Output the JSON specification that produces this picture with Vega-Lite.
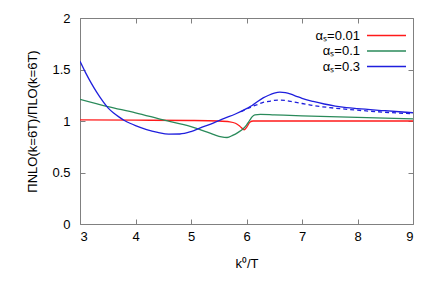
{
  "$schema": "https://vega.github.io/schema/vega-lite/v6.json",
  "autosize": {"type": "none"},
  "padding": {"left": 80, "top": 18, "right": 23, "bottom": 62},
  "width": 333,
  "height": 206,
  "config": {
    "view": {"stroke": "#808080", "strokeWidth": 1},
    "font": "Liberation Sans",
    "axis": {"labelFont": "Liberation Sans", "titleFont": "Liberation Sans", "labelFontSize": 13, "titleFontSize": 13, "titleFontWeight": "normal", "labelColor": "#000", "titleColor": "#000", "domainColor": "#808080", "tickColor": "#808080", "grid": false}
  },
  "datasets": {
    "main": [
      {"k": 3.0, "r": 1.01, "c": "αₛ=0.01"}, {"k": 4.0, "r": 1.008, "c": "αₛ=0.01"}, {"k": 5.0, "r": 1.005, "c": "αₛ=0.01"}, {"k": 5.5, "r": 1.0, "c": "αₛ=0.01"}, {"k": 5.7, "r": 0.992, "c": "αₛ=0.01"}, {"k": 5.8, "r": 0.978, "c": "αₛ=0.01"}, {"k": 5.88, "r": 0.95, "c": "αₛ=0.01"}, {"k": 5.96, "r": 0.915, "c": "αₛ=0.01"}, {"k": 6.01, "r": 0.945, "c": "αₛ=0.01"}, {"k": 6.06, "r": 0.988, "c": "αₛ=0.01"}, {"k": 6.12, "r": 1.0, "c": "αₛ=0.01"}, {"k": 6.5, "r": 1.0, "c": "αₛ=0.01"}, {"k": 7.0, "r": 1.0, "c": "αₛ=0.01"}, {"k": 8.0, "r": 1.0, "c": "αₛ=0.01"}, {"k": 9.0, "r": 1.0, "c": "αₛ=0.01"},
      {"k": 3.0, "r": 1.21, "c": "αₛ=0.1"}, {"k": 3.5, "r": 1.14, "c": "αₛ=0.1"}, {"k": 4.0, "r": 1.08, "c": "αₛ=0.1"}, {"k": 4.5, "r": 1.01, "c": "αₛ=0.1"}, {"k": 5.0, "r": 0.945, "c": "αₛ=0.1"}, {"k": 5.2, "r": 0.91, "c": "αₛ=0.1"}, {"k": 5.4, "r": 0.87, "c": "αₛ=0.1"}, {"k": 5.55, "r": 0.845, "c": "αₛ=0.1"}, {"k": 5.65, "r": 0.84, "c": "αₛ=0.1"}, {"k": 5.75, "r": 0.86, "c": "αₛ=0.1"}, {"k": 5.85, "r": 0.89, "c": "αₛ=0.1"}, {"k": 5.95, "r": 0.93, "c": "αₛ=0.1"}, {"k": 6.0, "r": 0.96, "c": "αₛ=0.1"}, {"k": 6.05, "r": 1.0, "c": "αₛ=0.1"}, {"k": 6.1, "r": 1.04, "c": "αₛ=0.1"}, {"k": 6.15, "r": 1.06, "c": "αₛ=0.1"}, {"k": 6.25, "r": 1.065, "c": "αₛ=0.1"}, {"k": 6.5, "r": 1.06, "c": "αₛ=0.1"}, {"k": 7.0, "r": 1.05, "c": "αₛ=0.1"}, {"k": 8.0, "r": 1.035, "c": "αₛ=0.1"}, {"k": 9.0, "r": 1.02, "c": "αₛ=0.1"},
      {"k": 3.0, "r": 1.58, "c": "αₛ=0.3"}, {"k": 3.1, "r": 1.47, "c": "αₛ=0.3"}, {"k": 3.2, "r": 1.37, "c": "αₛ=0.3"}, {"k": 3.3, "r": 1.28, "c": "αₛ=0.3"}, {"k": 3.4, "r": 1.2, "c": "αₛ=0.3"}, {"k": 3.5, "r": 1.13, "c": "αₛ=0.3"}, {"k": 3.6, "r": 1.08, "c": "αₛ=0.3"}, {"k": 3.7, "r": 1.04, "c": "αₛ=0.3"}, {"k": 3.8, "r": 1.005, "c": "αₛ=0.3"}, {"k": 3.9, "r": 0.978, "c": "αₛ=0.3"}, {"k": 4.0, "r": 0.955, "c": "αₛ=0.3"}, {"k": 4.2, "r": 0.917, "c": "αₛ=0.3"}, {"k": 4.4, "r": 0.89, "c": "αₛ=0.3"}, {"k": 4.6, "r": 0.873, "c": "αₛ=0.3"}, {"k": 4.8, "r": 0.874, "c": "αₛ=0.3"}, {"k": 5.0, "r": 0.897, "c": "αₛ=0.3"}, {"k": 5.2, "r": 0.94, "c": "αₛ=0.3"}, {"k": 5.4, "r": 0.98, "c": "αₛ=0.3"}, {"k": 5.6, "r": 1.025, "c": "αₛ=0.3"}, {"k": 5.8, "r": 1.068, "c": "αₛ=0.3"}, {"k": 6.0, "r": 1.12, "c": "αₛ=0.3"}, {"k": 6.1, "r": 1.15, "c": "αₛ=0.3"}, {"k": 6.2, "r": 1.19, "c": "αₛ=0.3"}, {"k": 6.3, "r": 1.225, "c": "αₛ=0.3"}, {"k": 6.4, "r": 1.25, "c": "αₛ=0.3"}, {"k": 6.5, "r": 1.27, "c": "αₛ=0.3"}, {"k": 6.6, "r": 1.28, "c": "αₛ=0.3"}, {"k": 6.7, "r": 1.275, "c": "αₛ=0.3"}, {"k": 6.8, "r": 1.26, "c": "αₛ=0.3"}, {"k": 6.9, "r": 1.24, "c": "αₛ=0.3"}, {"k": 7.0, "r": 1.22, "c": "αₛ=0.3"}, {"k": 7.2, "r": 1.19, "c": "αₛ=0.3"}, {"k": 7.4, "r": 1.165, "c": "αₛ=0.3"}, {"k": 7.6, "r": 1.145, "c": "αₛ=0.3"}, {"k": 7.8, "r": 1.13, "c": "αₛ=0.3"}, {"k": 8.0, "r": 1.12, "c": "αₛ=0.3"}, {"k": 8.5, "r": 1.1, "c": "αₛ=0.3"}, {"k": 9.0, "r": 1.08, "c": "αₛ=0.3"}
    ],
    "dashed": [
      {"k": 5.9, "r": 1.09, "c": "αₛ=0.3"}, {"k": 6.0, "r": 1.115, "c": "αₛ=0.3"}, {"k": 6.1, "r": 1.14, "c": "αₛ=0.3"}, {"k": 6.2, "r": 1.16, "c": "αₛ=0.3"}, {"k": 6.3, "r": 1.18, "c": "αₛ=0.3"}, {"k": 6.4, "r": 1.19, "c": "αₛ=0.3"}, {"k": 6.5, "r": 1.2, "c": "αₛ=0.3"}, {"k": 6.6, "r": 1.203, "c": "αₛ=0.3"}, {"k": 6.7, "r": 1.2, "c": "αₛ=0.3"}, {"k": 6.8, "r": 1.19, "c": "αₛ=0.3"}, {"k": 7.0, "r": 1.17, "c": "αₛ=0.3"}, {"k": 7.2, "r": 1.15, "c": "αₛ=0.3"}, {"k": 7.5, "r": 1.13, "c": "αₛ=0.3"}, {"k": 8.0, "r": 1.105, "c": "αₛ=0.3"}, {"k": 8.5, "r": 1.085, "c": "αₛ=0.3"}, {"k": 9.0, "r": 1.07, "c": "αₛ=0.3"}
    ]
  },
  "layer": [
    {
      "data": {"name": "main"},
      "mark": {"type": "line", "strokeWidth": 1.3, "interpolate": "monotone", "clip": true},
      "encoding": {
        "x": {"field": "k", "type": "quantitative", "scale": {"domain": [3, 9], "nice": false},
          "axis": {"orient": "bottom", "values": [3, 4, 5, 6, 7, 8, 9], "format": "~g", "tickSize": -5, "labelPadding": 11, "title": "k⁰/T", "titlePadding": 14, "domain": false}},
        "y": {"field": "r", "type": "quantitative", "scale": {"domain": [0, 2], "nice": false, "zero": false},
          "axis": {"orient": "left", "values": [0, 0.5, 1, 1.5, 2], "format": "~g", "tickSize": -5, "labelPadding": 15, "title": "ΠNLO(k=6T)/ΠLO(k=6T)", "titlePadding": 12, "domain": false}},
        "color": {"field": "c", "type": "nominal",
          "scale": {"domain": ["αₛ=0.01", "αₛ=0.1", "αₛ=0.3"], "range": ["#ff1a1a", "#2a8a5a", "#1f1fdd"]},
          "legend": {"orient": "none", "legendX": 299, "legendY": 10, "title": null, "symbolType": "M-3,0L3,0", "symbolSize": 169, "symbolStrokeWidth": 1.5, "labelAlign": "right", "labelOffset": -34, "labelFontSize": 13, "labelFont": "Liberation Sans", "rowPadding": 0.5, "padding": 0, "labelColor": "#000"}},
        "order": {"field": "k", "type": "quantitative"}
      }
    },
    {
      "data": {"name": "dashed"},
      "mark": {"type": "line", "strokeWidth": 1.3, "strokeDash": [4, 3], "interpolate": "monotone", "color": "#1f1fdd", "clip": true},
      "encoding": {
        "x": {"field": "k", "type": "quantitative", "axis": {"orient": "top", "values": [3, 4, 5, 6, 7, 8, 9], "tickSize": -5, "labels": false, "title": null, "domain": false}},
        "y": {"field": "r", "type": "quantitative", "axis": {"orient": "right", "values": [0, 0.5, 1, 1.5, 2], "tickSize": -5, "labels": false, "title": null, "domain": false}},
        "order": {"field": "k", "type": "quantitative"}
      }
    }
  ],
  "resolve": {"axis": {"x": "independent", "y": "independent"}}
}
